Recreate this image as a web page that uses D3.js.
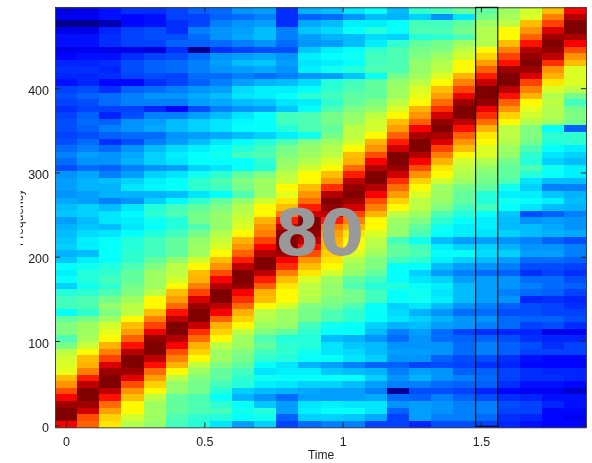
<!DOCTYPE html>
<html lang="en">
<head>
<meta charset="UTF-8">
<title>Spectrogram</title>
<style>
    html, body { margin:0; padding:0; background:#fff; }
    svg { display:block; filter:blur(0.6px); }
    .axis path { fill:none; stroke:#444; }
    .axis line { stroke:#222; }
    .axis text { font-family:"Liberation Sans",sans-serif; font-size:12.5px; fill:#222; }
</style>
</head>
<body>
<script src="https://cdn.jsdelivr.net/npm/d3@7/dist/d3.min.js"></script>
<script>
// time of each column
var times = [0,0.08,0.16,0.24,0.32,0.4,0.48,0.56,0.64,0.72,0.8,0.88,0.96,1.04,1.12,1.2,1.28,1.36,1.44,1.52,1.6,1.68,1.76,1.84];
var xTicks = [0,0.5,1,1.5];
var yTicks = [0,100,200,300,400];
var overlayLabel = "80";
var selectedTime = 1.52;

// one list per time column, top row first (levels on a 0-100 colour range)
var levels = [
[10,11,0,10,14,14,10,13,16,17,16,14,19,20,19,17,19,20,20,19,20,23,25,23,20,27,28,28,27,29,31,32,28,30,31,32,33,30,32,38,36,38,33,41,44,44,38,47,50,50,45,49,56,58,59,60,69,73,80,88,97,100,100,88],
[10,11,0,10,14,14,11,14,16,17,16,16,20,22,20,19,22,23,22,20,23,25,28,27,23,29,30,30,28,28,33,33,31,32,34,36,36,31,36,39,41,41,39,42,45,45,42,49,53,53,54,57,63,69,70,75,85,94,100,100,97,92,80,78],
[14,14,4,16,17,17,10,14,17,16,17,13,17,23,23,19,16,22,25,22,17,23,27,27,22,25,31,30,30,25,31,35,35,31,35,38,38,38,38,41,42,44,42,45,49,52,50,53,58,60,63,70,75,81,91,97,100,100,94,86,77,72,67,65],
[17,13,13,19,19,19,10,17,20,20,19,13,22,25,25,19,20,27,27,23,20,27,29,30,25,28,33,35,30,27,35,37,36,35,38,41,41,42,42,45,47,47,49,50,53,56,56,63,69,72,78,86,95,100,100,97,90,80,73,69,63,63,58,55],
[17,14,14,20,20,19,8,19,22,22,20,17,23,27,25,16,25,28,29,23,25,31,33,33,27,33,36,37,30,33,41,42,39,38,41,44,44,44,47,50,53,53,53,56,63,63,69,75,81,89,98,100,100,94,86,77,72,67,63,56,53,53,53,52],
[19,19,17,17,20,22,17,20,23,23,19,19,25,27,25,13,25,31,31,27,28,34,36,35,28,35,38,38,31,37,44,45,41,41,44,47,47,47,52,56,56,58,63,69,72,77,86,94,100,100,95,88,80,75,70,63,56,52,52,47,47,47,45,44],
[22,19,19,25,23,22,0,23,25,25,23,22,27,29,28,20,28,33,33,28,31,36,38,38,33,39,42,42,35,42,47,49,49,45,49,52,53,53,58,63,69,70,75,81,91,97,100,100,93,83,77,70,67,63,56,53,50,49,49,45,45,45,42,41],
[23,22,25,27,27,23,17,27,28,27,23,25,28,31,29,25,31,35,35,29,35,38,39,38,35,42,45,44,38,47,50,52,52,52,55,57,59,63,69,73,80,88,95,100,100,94,88,78,70,67,63,56,53,53,50,47,47,44,41,38,42,44,41,35],
[27,23,27,28,29,25,19,28,31,28,25,28,34,35,31,27,35,37,38,31,38,41,44,38,38,47,50,49,45,52,55,56,58,59,63,70,73,78,85,94,100,100,98,88,83,77,70,67,63,56,53,53,50,49,47,44,42,41,33,30,38,39,38,28],
[28,25,28,31,31,27,20,29,32,29,23,30,36,36,32,28,38,38,38,33,41,44,45,42,41,50,53,53,53,58,63,63,70,73,75,81,88,95,100,100,94,85,78,70,69,63,56,55,53,50,45,47,44,42,38,35,39,36,31,27,32,41,39,33],
[17,17,17,25,25,23,20,27,28,27,25,31,36,38,35,32,44,44,41,36,45,49,50,52,53,56,57,63,60,65,69,75,85,94,98,100,100,97,88,83,75,69,65,63,63,58,53,53,52,47,41,42,42,41,35,36,38,35,30,23,28,28,22,19],
[30,22,29,32,28,27,32,36,35,36,27,34,38,42,36,38,45,45,45,39,50,52,53,55,58,63,63,69,73,77,85,92,100,100,98,94,86,80,73,69,65,59,56,56,55,50,49,49,44,42,41,41,39,38,30,36,38,33,29,28,35,36,33,23],
[31,23,31,34,30,28,36,38,36,39,28,41,42,44,42,45,49,49,47,49,53,55,56,59,63,69,73,83,95,100,98,94,85,75,72,70,69,67,65,63,58,53,52,52,50,49,45,45,39,38,31,35,35,38,28,32,38,33,28,28,36,38,33,25],
[35,27,36,38,31,31,38,39,38,41,32,44,45,47,47,50,52,53,56,56,58,63,69,70,77,85,94,98,100,97,92,81,75,70,65,63,63,59,55,53,52,47,45,49,49,45,42,42,38,38,30,32,34,35,25,31,38,31,28,28,35,38,32,25],
[38,31,36,41,34,36,42,44,44,45,38,47,47,47,50,52,56,58,58,63,70,73,80,88,95,100,100,95,88,80,75,70,63,63,59,56,55,53,50,50,47,44,41,44,44,38,38,38,33,31,27,31,31,33,22,30,33,28,25,29,35,35,29,19],
[31,30,38,38,33,42,45,45,45,45,49,52,53,53,56,59,63,69,72,78,85,92,100,100,98,92,83,77,72,67,63,56,53,52,52,44,47,47,44,38,38,38,41,38,38,33,34,35,30,25,23,27,28,27,22,25,27,25,1,23,27,22,19,19],
[42,33,44,45,41,47,49,50,52,52,53,56,59,60,63,70,73,78,88,96,100,100,95,88,80,73,67,63,59,56,56,53,50,47,45,39,44,45,42,38,33,35,38,39,39,35,30,33,31,28,27,27,28,27,19,28,30,25,20,22,28,28,28,16],
[44,27,44,45,42,49,50,53,55,56,59,63,69,72,77,83,92,98,100,96,91,81,75,70,65,63,58,53,53,52,50,45,42,39,38,31,36,38,36,31,28,33,36,35,36,31,27,30,28,23,23,27,27,22,20,27,27,23,20,25,27,27,25,20],
[47,35,47,49,45,53,56,58,63,63,70,75,81,89,97,100,100,94,86,78,73,69,63,58,56,55,53,49,47,47,44,41,38,36,36,28,33,38,33,28,25,28,31,31,31,27,23,27,27,19,22,23,23,20,19,22,25,22,19,22,25,25,25,20],
[47,49,53,55,55,55,63,67,72,78,85,93,100,100,98,89,83,77,70,65,63,59,59,55,52,50,49,47,41,41,44,38,36,36,35,28,33,34,31,27,23,28,28,28,28,25,23,27,25,17,22,25,25,20,17,22,23,22,16,20,25,25,23,19],
[53,54,56,63,63,69,75,81,86,97,100,100,94,86,78,73,67,63,56,56,55,53,52,49,47,47,45,39,36,39,38,32,31,31,33,27,30,33,28,25,22,27,27,25,27,22,20,23,23,16,20,22,22,17,16,19,19,17,13,17,20,19,17,16],
[58,59,69,73,78,86,95,98,100,97,91,81,75,70,63,60,58,55,50,50,49,45,42,41,45,41,35,33,36,38,35,20,27,31,31,25,27,28,23,20,17,23,25,23,16,20,20,22,19,16,17,20,19,14,13,17,17,14,11,16,19,19,16,14],
[69,75,81,91,97,100,98,94,83,73,70,65,59,55,56,55,55,53,38,42,41,38,35,33,39,38,31,25,32,36,31,22,28,29,30,22,27,28,23,20,19,23,23,22,17,19,19,22,20,10,16,17,19,13,13,16,17,14,11,14,16,13,13,13],
[88,95,100,100,96,88,80,73,69,59,59,59,56,49,44,49,50,49,22,42,42,36,33,31,36,36,31,25,30,31,30,25,27,27,29,20,25,25,22,19,17,20,22,19,16,17,19,20,17,11,16,19,19,13,13,16,16,13,7,14,14,13,11,13]
];

var w = 592;
var h = 463;
var left = 55, right = 586, top_ = 7.3, bottom = 427.3;

var timeStep = times[1]-times[0];
var rowCount = levels[0].length;
var freqMin = -2.4, freqMax = 496;
var freqStep = (freqMax-freqMin)/rowCount;

var xScale = d3.scaleLinear().domain([times[0]-timeStep/2,times[times.length-1]+timeStep/2]).range([left,right]);
var yScale = d3.scaleLinear().domain([freqMin,freqMax]).range([bottom,top_]);
var jet = d3.scaleLinear()
    .domain([0,12.5,37.5,62.5,87.5,100])
    .range(["#00008f","#0000ff","#00ffff","#ffff00","#ff0000","#800000"]);

var svg = d3.select("body").append("svg").attr("width",w).attr("height",h);

var columns = svg.selectAll("g.column")
    .data(levels)
    .enter()
    .append("g")
    .attr("class","column");

columns.selectAll("rect")
    .data(function (d,i) {
        return d.map(function (v,r) {
            return {t:times[i],row:r,v:v};
        });
    })
    .enter()
    .append("rect")
    .attr("x",function (d) { return xScale(d.t-timeStep/2); })
    .attr("width",xScale(timeStep)-xScale(0)+0.5)
    .attr("y",function (d) { return yScale(freqMax-d.row*freqStep); })
    .attr("height",yScale(0)-yScale(freqStep)+0.5)
    .attr("shape-rendering","crispEdges")
    .attr("fill",function (d) { return jet(d.v); });

// frame and ticks on all four sides, pointing inward
var tick = 5;
svg.append("g").attr("class","axis").attr("transform","translate(0,"+bottom+")")
    .call(d3.axisBottom(xScale).tickValues(xTicks).tickFormat(d3.format("~g")).tickSize(-tick).tickSizeOuter(0).tickPadding(10));
svg.append("g").attr("class","axis").attr("transform","translate(0,"+top_+")")
    .call(d3.axisTop(xScale).tickValues(xTicks).tickFormat("").tickSize(-tick).tickSizeOuter(0));
svg.append("g").attr("class","axis yleft").attr("transform","translate("+left+",0)")
    .call(d3.axisLeft(yScale).tickValues(yTicks).tickSize(-tick).tickSizeOuter(0).tickPadding(6));
svg.append("g").attr("class","axis").attr("transform","translate("+right+",0)")
    .call(d3.axisRight(yScale).tickValues(yTicks).tickFormat("").tickSize(-tick).tickSizeOuter(0));
// labels sit a little under their ticks
svg.selectAll(".yleft text").attr("dy","0.5em");

// highlighted column
svg.append("rect")
    .attr("x",xScale(selectedTime-timeStep/2)+0.3)
    .attr("y",top_)
    .attr("width",xScale(timeStep)-xScale(0))
    .attr("height",bottom-top_-1)
    .attr("fill","none")
    .attr("stroke","#000")
    .attr("stroke-width",1);

svg.append("text")
    .attr("x",321)
    .attr("y",459)
    .attr("text-anchor","middle")
    .attr("font-family","Liberation Sans, sans-serif")
    .attr("font-size","12px")
    .attr("fill","#222")
    .text("Time");

// y label is cut off in the original, only the low part of the letters shows
svg.append("clipPath").attr("id","ylabelClip")
    .append("rect").attr("x",20.5).attr("y",150).attr("width",12).attr("height",140);
svg.append("g").attr("clip-path","url(#ylabelClip)")
    .append("text")
    .attr("transform","translate(23,246) rotate(-90)")
    .attr("font-family","Liberation Sans, sans-serif")
    .attr("font-size","12px")
    .attr("fill","#222")
    .text("Frequency");

svg.append("text")
    .attr("x",319.5)
    .attr("y",255)
    .attr("text-anchor","middle")
    .attr("font-family","DejaVu Sans, sans-serif")
    .attr("font-weight","bold")
    .attr("font-size","64px")
    .attr("fill","#999")
    .text(overlayLabel);
</script>
</body>
</html>
